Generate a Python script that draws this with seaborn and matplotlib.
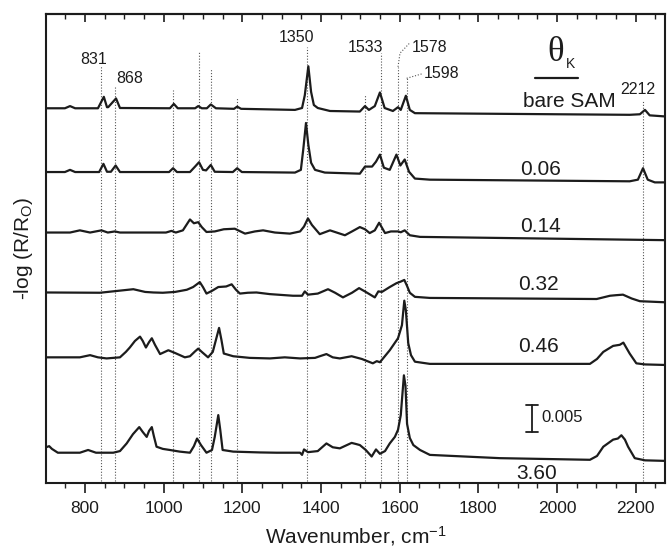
"""IRRAS spectra of a SAM for increasing K coverage, stacked with offsets."""

import matplotlib

matplotlib.use('Agg')

import pandas as pd  # noqa: E402
import seaborn as sns  # noqa: E402
from matplotlib import pyplot as plt  # noqa: E402

# coverage labels, top to bottom
THETAS = ['bare SAM', '0.06', '0.14', '0.32', '0.46', '3.60']
# vertical offsets of each trace, in units of 0.001 of -log(R/Ro)
OFFSETS = [68.7, 57.0, 45.9, 34.9, 23.0, 5.5]

BARE_WN = [701, 749, 762, 775, 833, 848, 856, 859, 879, 889, 1016, 1026, 1036, 1080, 1088, 1097,
           1110, 1120, 1133, 1179, 1187, 1197, 1334, 1352, 1359, 1368, 1375, 1382, 1392, 1423,
           1499, 1512, 1522, 1537, 1550, 1562, 1583, 1596, 1603, 1616, 1626, 1639, 2185, 2211,
           2224, 2236, 2275]
BARE_Y = [0, 0, 0.4, 0, 0, 2.1, 0.2, 0.2, 1.8, 0.05, 0, 0.8, 0, 0, 0.4, 0, 0, 0.7, 0, -0.1,
          0.3, -0.1, -0.3, 0.05, 2.4, 7.7, 3.0, 0.6, 0.05, -0.5, -0.6, 0.4, -0.3, 0.4, 2.9, 0.05,
          -0.5, 0.2, -0.3, 2.3, -0.3, -0.9, -1.2, -1.1, -0.3, -1.3, -1.5]

K006_WN = [701, 749, 762, 775, 836, 847, 856, 866, 878, 889, 1014, 1024, 1034, 1067, 1080, 1090,
           1100, 1108, 1120, 1130, 1176, 1187, 1199, 1334, 1349, 1355, 1362, 1368, 1375, 1385,
           1410, 1499, 1512, 1530, 1540, 1550, 1560, 1575, 1592, 1602, 1613, 1624, 1639, 1677,
           2185, 2206, 2219, 2231, 2249, 2275]
K006_Y = [0, 0, 0.4, 0, 0, 1.5, 0.05, 0.05, 1.2, 0, 0, 0.7, 0, 0, 1.0, 1.8, 0.4, 0.3, 1.3, 0.05,
          0, 0.7, 0, -0.1, 0.4, 4.1, 9.0, 5.0, 1.7, 0.4, -0.1, -0.3, 1.0, 1.0, 1.9, 3.2, 0.8, 0.4,
          3.2, 1.2, 2.3, 0.05, -1.2, -1.4, -1.7, -1.4, 0.7, -1.4, -1.9, -1.9]

K014_WN = [701, 762, 787, 813, 842, 858, 876, 889, 1006, 1020, 1031, 1049, 1067, 1077, 1088,
           1097, 1109, 1130, 1153, 1181, 1207, 1232, 1253, 1283, 1321, 1347, 1357, 1367, 1377,
           1397, 1423, 1461, 1479, 1499, 1512, 1524, 1537, 1548, 1563, 1578, 1596, 1603, 1613,
           1626, 1652, 2275]
K014_Y = [0, 0, 0.4, 0, 0.4, 0, 0.2, 0, 0, 0.3, 0, 0.4, 2.4, 1.7, 1.9, 1.0, 0.1, 0.2, 0.6, 0.7,
          -0.2, 0.2, 0.4, 0, -0.2, 0.2, 1.1, 2.6, 1.4, -0.3, 0.4, -0.5, 0.2, 1.0, 0.6, -0.1, 0.4,
          1.8, -0.1, 0.2, 0.2, 0.05, 0.4, -0.5, -0.8, -1.4]

K032_WN = [701, 838, 923, 953, 974, 998, 1029, 1059, 1075, 1092, 1100, 1109, 1123, 1139, 1159,
           1173, 1184, 1194, 1214, 1236, 1270, 1329, 1352, 1359, 1367, 1392, 1418, 1436, 1456,
           1479, 1497, 1514, 1537, 1546, 1555, 1575, 1592, 1603, 1612, 1619, 1626, 1639, 1677,
           2101, 2135, 2150, 2168, 2190, 2211, 2275]
K032_Y = [0, -0.05, 0.6, 0.1, 0, -0.05, 0.1, 0.5, 1.0, 1.9, 1.0, -0.2, 0.3, 1.0, 1.1, 1.5, 0.5,
          -0.2, -0.05, 0, -0.3, -0.6, -0.6, 0.2, -0.4, -0.2, 0.6, -0.05, -0.9, -0.05, 0.8, 0.1,
          -0.9, 0.2, 0.1, 1.0, 1.7, 2.0, 2.3, 1.2, -0.05, -0.8, -1.0, -1.2, -0.6, -0.5, -0.4,
          -1.1, -1.6, -1.8]

K046_WN = [701, 787, 813, 833, 855, 889, 904, 914, 927, 940, 947, 955, 963, 970, 978, 991, 1012,
           1029, 1054, 1067, 1080, 1088, 1097, 1113, 1125, 1133, 1141, 1147, 1153, 1177, 1219,
           1270, 1308, 1347, 1385, 1397, 1414, 1430, 1448, 1478, 1504, 1532, 1542, 1550, 1575,
           1596, 1606, 1612, 1616, 1622, 1629, 1639, 1677, 2084, 2102, 2118, 2143, 2160, 2169,
           2185, 2202, 2224, 2275]
K046_Y = [0, 0, 0.4, 0, -0.2, 0, 1.0, 1.8, 3.0, 3.8, 3.0, 1.8, 2.8, 3.5, 2.3, 0.6, 1.3, 0.8, 0,
          0.2, 1.1, 1.6, 1.0, 0, 1.0, 3.2, 5.4, 3.2, 0.7, 0.2, -0.1, -0.2, 0, -0.2, -0.1, 0.2,
          0.6, 0, -0.2, 0.2, -0.3, -1.1, -0.7, -0.9, 1.3, 3.5, 5.9, 10.4, 8.6, 2.6, 0.4, -0.8,
          -1.2, -1.2, -0.3, 1.0, 2.1, 2.3, 2.7, 0.7, -1.1, -1.3, -1.4]

K360_WN = [701, 709, 716, 731, 787, 808, 828, 872, 889, 906, 922, 938, 947, 957, 963, 970, 975,
           982, 998, 1016, 1041, 1067, 1077, 1085, 1095, 1109, 1123, 1130, 1139, 1144, 1150, 1177,
           1245, 1287, 1347, 1352, 1357, 1367, 1392, 1414, 1430, 1448, 1478, 1489, 1499, 1514,
           1529, 1540, 1550, 1563, 1575, 1588, 1596, 1603, 1611, 1615, 1619, 1626, 1635, 1652,
           1677, 1855, 2084, 2102, 2118, 2143, 2155, 2164, 2173, 2181, 2198, 2224, 2275]
K360_Y = [1.0, 1.2, 0.7, 0, 0, 0.5, 0, 0, 0.3, 1.7, 3.4, 4.7, 3.8, 2.9, 4.0, 4.7, 3.1, 1.1, 0.7,
          0.5, 0.2, 0, 1.2, 2.6, 1.4, 0, 0.5, 2.9, 6.9, 4.2, 0.5, 0.2, 0.05, 0, 0, -0.4, 0.6,
          0.1, 0.3, 1.7, 1.0, 0.8, 1.8, 1.6, 1.4, 0.5, -0.7, 0.6, -0.2, 0.3, 1.7, 2.9, 4.2, 6.9,
          14.2, 12.3, 5.3, 2.7, 1.4, 0.5, -0.4, -1.0, -1.3, -0.6, 1.1, 2.4, 2.6, 3.2, 2.4, 1.1,
          -1.0, -1.4, -1.5]

SPECTRA = [(BARE_WN, BARE_Y), (K006_WN, K006_Y), (K014_WN, K014_Y),
           (K032_WN, K032_Y), (K046_WN, K046_Y), (K360_WN, K360_Y)]

# dotted guide lines: position and top end
GUIDE_WN = [842, 876, 1025, 1090, 1120, 1187, 1365, 1512, 1554, 1596, 1618, 2219]
GUIDE_TOP = [76.6, 72.7, 72.1, 79.1, 76.0, 70.5, 80.0, 71.1, 78.8, 76.3, 74.2, 70.2]

# peak labels
PEAK_TEXT = ['831', '868', '1350', '1533', '1578', '1598', '2212']
PEAK_X = [823, 914, 1339, 1514, 1677, 1708, 2206]
PEAK_Y = [77.6, 74.1, 81.7, 79.9, 79.8, 75.1, 72.1]

# coverage label positions
THETA_X = [2033, 1958, 1958, 1954, 1952, 1948]
THETA_Y = [70.0, 57.4, 47.0, 36.3, 25.0, 1.6]

MAJOR_TICKS = [800, 1000, 1200, 1400, 1600, 1800, 2000, 2200]
MINOR_TICKS = list(range(750, 2275, 50))

SCALE_BAR = 5.0  # 0.005 in units of 0.001

INK = '#1c1c1c'

frames = []
for theta, offset, (wn, val) in zip(THETAS, OFFSETS, SPECTRA):
    frames.append(pd.DataFrame({'wn': wn, 'y': [v + offset for v in val], 'theta': theta}))
data = pd.concat(frames, ignore_index=True)

sns.set_theme(style='ticks')
plt.rcParams['font.family'] = ['Liberation Sans', 'DejaVu Sans']
plt.rcParams['mathtext.fontset'] = 'custom'
plt.rcParams['mathtext.rm'] = 'Liberation Sans'
plt.rcParams['mathtext.it'] = 'Liberation Sans'

fig = plt.figure(figsize=(6.7, 5.55), dpi=100)
ax = fig.add_axes([0.0687, 0.1303, 0.9239, 0.8445])

dot = dict(color='#555555', lw=0.8, linestyle=(0, (1, 1.6)), zorder=1)
for x, top in zip(GUIDE_WN, GUIDE_TOP):
    ax.plot([x, x], [0.3, top], **dot)
# leaders for 1578 and 1598
ax.plot([1596, 1601, 1626], [76.3, 78.8, 80.7], **dot)
ax.plot([1618, 1656], [74.2, 75.0], **dot)

sns.lineplot(data=data, x='wn', y='y', units='theta', estimator=None, sort=False,
             color=INK, lw=1.6, ax=ax, zorder=3)

for txt, x, y in zip(PEAK_TEXT, PEAK_X, PEAK_Y):
    ax.text(x, y, txt, ha='center', va='center', fontsize=11.5, color=INK)

for txt, x, y in zip(THETAS, THETA_X, THETA_Y):
    ax.text(x, y, txt, ha='center', va='center', fontsize=15, color=INK)

ax.text(1997, 79.0, 'θ', ha='center', va='center', fontsize=25,
        family=['Liberation Serif', 'DejaVu Serif'], color=INK)
ax.text(2034, 76.8, 'K', ha='center', va='center', fontsize=10, color=INK)
ax.plot([1944, 2053], [74.2, 74.2], color=INK, lw=1.6)

# scale bar
ax.plot([1937, 1937], [9.25, 9.25 + SCALE_BAR], color=INK, lw=1.3)
ax.plot([1921, 1953], [9.25, 9.25], color=INK, lw=1.3)
ax.plot([1921, 1953], [9.25 + SCALE_BAR, 9.25 + SCALE_BAR], color=INK, lw=1.3)
ax.text(1961, 12.0, '0.005', ha='left', va='center', fontsize=12, color=INK)

ax.set_xlim(701, 2275)
ax.set_ylim(0, 86.0)
ax.set_xticks(MAJOR_TICKS)
ax.set_xticks(MINOR_TICKS, minor=True)
ax.set_yticks([])
ax.tick_params(axis='x', which='major', direction='out', length=7, width=1.2,
               labelsize=12.5, colors=INK, pad=6, top=False)
ax.tick_params(axis='x', which='minor', direction='out', length=3.5, width=1.0, top=False)

# top axis carries inward ticks only
top = ax.secondary_xaxis('top')
top.set_xticks(MAJOR_TICKS)
top.set_xticks(MINOR_TICKS, minor=True)
top.tick_params(which='major', direction='in', length=6, width=1.2, labeltop=False, colors=INK)
top.tick_params(which='minor', direction='in', length=3.5, width=1.0, colors=INK)
top.spines['top'].set_linewidth(1.5)
top.spines['top'].set_color(INK)

for side in ['top', 'bottom', 'left', 'right']:
    ax.spines[side].set_visible(True)
    ax.spines[side].set_linewidth(1.5)
    ax.spines[side].set_color(INK)

ax.set_xlabel('Wavenumber, cm$^{-1}$', fontsize=15, color=INK, labelpad=6)
ax.set_ylabel('-log (R/R$_\\mathrm{O}$)', fontsize=15, color=INK, labelpad=8)

fig.savefig('out.png', dpi=100, facecolor='white')
